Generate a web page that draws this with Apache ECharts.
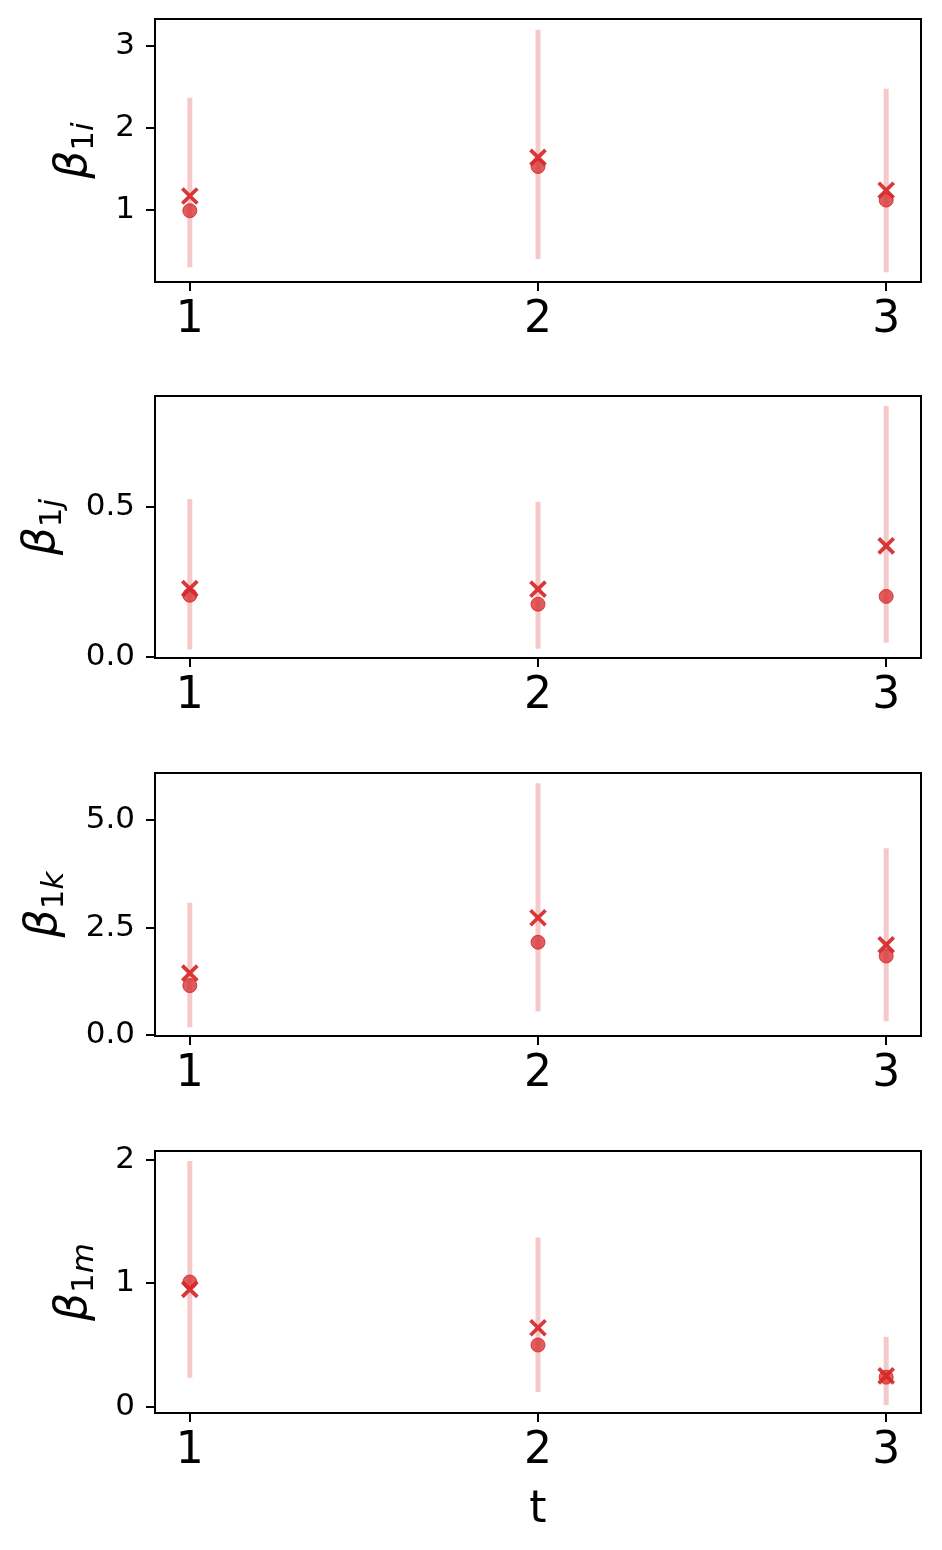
<!DOCTYPE html>
<html>
<head>
<meta charset="utf-8">
<script src="https://cdn.jsdelivr.net/npm/echarts@6/dist/echarts.min.js"></script>
<style>
html,body{margin:0;padding:0;background:#fff;}
#c{width:942px;height:1550px;}
</style>
</head>
<body>
<div id="c"></div>
<script>
// ---- data ----
const tValues = [1, 2, 3];
const xTickValues = [1, 2, 3];

const b1iCircle = [0.99, 1.53, 1.12];
const b1iCross  = [1.17, 1.64, 1.24];
const b1iLow    = [0.30, 0.40, 0.24];
const b1iHigh   = [2.37, 3.20, 2.48];

const b1jCircle = [0.206, 0.176, 0.202];
const b1jCross  = [0.228, 0.226, 0.370];
const b1jLow    = [0.025, 0.028, 0.048];
const b1jHigh   = [0.526, 0.517, 0.836];

const b1kCircle = [1.15, 2.16, 1.84];
const b1kCross  = [1.44, 2.73, 2.10];
const b1kLow    = [0.18, 0.55, 0.32];
const b1kHigh   = [3.08, 5.86, 4.35];

const b1mCircle = [1.01, 0.50, 0.24];
const b1mCross  = [0.95, 0.64, 0.25];
const b1mLow    = [0.235, 0.12, 0.014];
const b1mHigh   = [1.99, 1.37, 0.566];

const yTicks1 = [1, 2, 3];        const yLabels1 = ['1', '2', '3'];
const yTicks2 = [0, 0.5];         const yLabels2 = ['0.0', '0.5'];
const yTicks3 = [0, 2.5, 5];      const yLabels3 = ['0.0', '2.5', '5.0'];
const yTicks4 = [0, 1, 2];        const yLabels4 = ['0', '1', '2'];

const subscripts = ['i', 'j', 'k', 'm'];

// ---- layout / style ----
const FONT = 'DejaVu Sans';
const RED = '#d62728';
const panels = [
  {circle: b1iCircle, cross: b1iCross, low: b1iLow, high: b1iHigh, ticks: yTicks1, labels: yLabels1, min: 0.12, max: 3.33, top: 19, height: 263, gap: 55},
  {circle: b1jCircle, cross: b1jCross, low: b1jLow, high: b1jHigh, ticks: yTicks2, labels: yLabels2, min: -0.003, max: 0.869, top: 396, height: 262, gap: 87},
  {circle: b1kCircle, cross: b1kCross, low: b1kLow, high: b1kHigh, ticks: yTicks3, labels: yLabels3, min: -0.023, max: 6.10, top: 773, height: 263, gap: 85},
  {circle: b1mCircle, cross: b1mCross, low: b1mLow, high: b1mHigh, ticks: yTicks4, labels: yLabels4, min: -0.05, max: 2.07, top: 1151, height: 262, gap: 55}
];

const grid = [], xAxis = [], yAxis = [], series = [];
panels.forEach((p, i) => {
  grid.push({left: 155, right: 21, top: p.top, height: p.height, show: true,
    borderColor: '#000', borderWidth: 2, backgroundColor: 'transparent', containLabel: false});
  xAxis.push({
    gridIndex: i, type: 'value', min: 0.9, max: 3.1,
    name: i === 3 ? 't' : '', nameLocation: 'middle', nameGap: 76,
    nameTextStyle: {fontFamily: FONT, fontSize: 44, color: '#000'},
    axisLine: {show: true, onZero: false, lineStyle: {color: '#000', width: 2}},
    axisTick: {show: true, length: 9, lineStyle: {color: '#000', width: 2}, customValues: xTickValues},
    axisLabel: {show: true, fontFamily: FONT, fontSize: 44, color: '#000', margin: 17,
      customValues: xTickValues, formatter: v => String(v)},
    splitLine: {show: false}
  });
  const labelMap = {};
  p.ticks.forEach((v, k) => { labelMap[v] = p.labels[k]; });
  yAxis.push({
    gridIndex: i, type: 'value', min: p.min, max: p.max,
    name: '{b|β}{n|1}{s|' + subscripts[i] + '}',
    nameLocation: 'middle', nameGap: p.gap, nameRotate: 90,
    nameTextStyle: {
      fontFamily: FONT, color: '#000',
      rich: {
        b: {fontFamily: FONT, fontStyle: 'italic', fontSize: 44, color: '#000', lineHeight: 50},
        n: {fontFamily: FONT, fontSize: 31, color: '#000', lineHeight: 31, padding: [20, 0, 0, 0]},
        s: {fontFamily: FONT, fontStyle: 'italic', fontSize: 31, color: '#000', lineHeight: 31, padding: [20, 0, 0, 0]}
      }
    },
    axisLine: {show: true, onZero: false, lineStyle: {color: '#000', width: 2}},
    axisTick: {show: true, length: 9, lineStyle: {color: '#000', width: 2}, customValues: p.ticks},
    axisLabel: {show: true, fontFamily: FONT, fontSize: 31, color: '#000', margin: 20,
      customValues: p.ticks, formatter: v => (labelMap[v] !== undefined ? labelMap[v] : String(v))},
    splitLine: {show: false}
  });
  const errData = tValues.map((t, k) => [t, p.low[k], p.high[k]]);
  series.push({
    type: 'custom', xAxisIndex: i, yAxisIndex: i, data: errData,
    encode: {x: 0, y: [1, 2]}, z: 1,
    renderItem: (params, api) => {
      const a = api.coord([api.value(0), api.value(1)]);
      const b = api.coord([api.value(0), api.value(2)]);
      return {type: 'line', shape: {x1: a[0], y1: a[1], x2: b[0], y2: b[1]},
        style: {stroke: '#f5c9c9', lineWidth: 5}};
    }
  });
  series.push({
    type: 'scatter', xAxisIndex: i, yAxisIndex: i, z: 2,
    data: tValues.map((t, k) => [t, p.circle[k]]),
    symbol: 'circle', symbolSize: 14,
    itemStyle: {color: 'rgba(214,39,40,0.75)', borderColor: 'rgba(214,39,40,0.85)', borderWidth: 1, opacity: 1}
  });
  series.push({
    type: 'scatter', xAxisIndex: i, yAxisIndex: i, z: 3,
    data: tValues.map((t, k) => [t, p.cross[k]]),
    symbol: 'path://M0,0L10,10M10,0L0,10', symbolSize: 15,
    itemStyle: {color: 'none', borderColor: RED, borderWidth: 3.8, opacity: 0.92}
  });
});

const chart = echarts.init(document.getElementById('c'), null, {renderer: 'canvas'});
chart.setOption({animation: false, backgroundColor: '#fff', grid, xAxis, yAxis, series});
</script>
</body>
</html>
